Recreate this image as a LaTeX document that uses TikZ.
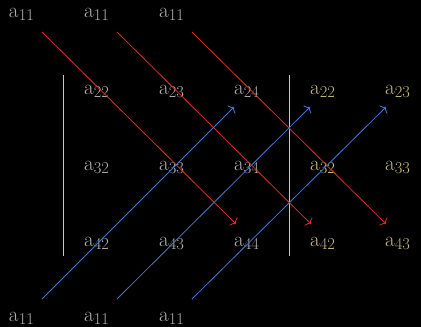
\documentclass[tikz,border=0pt]{standalone}
\usetikzlibrary{arrows.meta}
\definecolor{bgc}{RGB}{0,0,0}
\definecolor{txtgray}{RGB}{178,178,178}
\definecolor{txtkhaki}{RGB}{200,186,124}
\definecolor{redl}{RGB}{226,42,34}
\definecolor{bluel}{RGB}{62,120,214}
\definecolor{sepgray}{RGB}{200,200,200}
\newcommand\elab[1]{{\fontsize{21}{21}\selectfont a}\kern0.2pt{\fontsize{16.5}{16.5}\selectfont\raisebox{-3pt}{#1}}}
\begin{document}
\begin{tikzpicture}[x=1pt,y=-1pt,
  lab/.style={anchor=base west,inner sep=0pt,outer sep=0pt},
  gl/.style={lab,text=txtgray},
  kl/.style={lab,text=txtkhaki},
  redarr/.style={draw=redl,line width=0.8pt,-{To[length=4pt,width=11pt]}},
  bluearr/.style={draw=bluel,line width=0.8pt,-{To[length=4pt,width=11pt]}},
  sep/.style={draw=sepgray,line width=0.9pt}]
\fill[bgc] (0,0) rectangle (421,327);
\useasboundingbox (0,0) rectangle (421,327);
% top row
\node[gl] (t1) at (9,17) {\elab{11}};
\node[gl] (t2) at (84,17) {\elab{11}};
\node[gl] (t3) at (159,17) {\elab{11}};
% bottom row
\node[gl] (b1) at (9,321) {\elab{11}};
\node[gl] (b2) at (84,321) {\elab{11}};
\node[gl] (b3) at (159,321) {\elab{11}};
% matrix gray
\node[gl] (m22) at (84,94) {\elab{22}};
\node[gl] (m23) at (159,94) {\elab{23}};
\node[gl] (m24) at (234,94) {\elab{24}};
\node[gl] (m32) at (84,170) {\elab{32}};
\node[gl] (m33) at (159,170) {\elab{33}};
\node[gl] (m34) at (234,170) {\elab{34}};
\node[gl] (m42) at (84,246) {\elab{42}};
\node[gl] (m43) at (159,246) {\elab{43}};
\node[gl] (m44) at (234,246) {\elab{44}};
% matrix khaki
\node[kl] (k22) at (310,94) {\elab{22}};
\node[kl] (k23) at (385,94) {\elab{23}};
\node[kl] (k32) at (310,170) {\elab{32}};
\node[kl] (k33) at (385,170) {\elab{33}};
\node[kl] (k42) at (310,246) {\elab{42}};
\node[kl] (k43) at (385,246) {\elab{43}};
% separators
\coordinate (s1t) at (63,75); \coordinate (s1b) at (63,256);
\coordinate (s2t) at (289,75); \coordinate (s2b) at (289,256);
\draw[sep] (s1t) -- (s1b);
\draw[sep] (s2t) -- (s2b);
% red arrows
\coordinate (r1s) at (42,32); \coordinate (r1e) at (236,224);
\coordinate (r2s) at (117,32); \coordinate (r2e) at (311,224);
\coordinate (r3s) at (192,32); \coordinate (r3e) at (386,224);
\draw[redarr] (r1s) -- (r1e);
\draw[redarr] (r2s) -- (r2e);
\draw[redarr] (r3s) -- (r3e);
% blue arrows
\coordinate (u1s) at (42,299); \coordinate (u1e) at (234,107);
\coordinate (u2s) at (117,299); \coordinate (u2e) at (310,107);
\coordinate (u3s) at (192,299); \coordinate (u3e) at (386,107);
\draw[bluearr] (u1s) -- (u1e);
\draw[bluearr] (u2s) -- (u2e);
\draw[bluearr] (u3s) -- (u3e);
\end{tikzpicture}
\end{document}
